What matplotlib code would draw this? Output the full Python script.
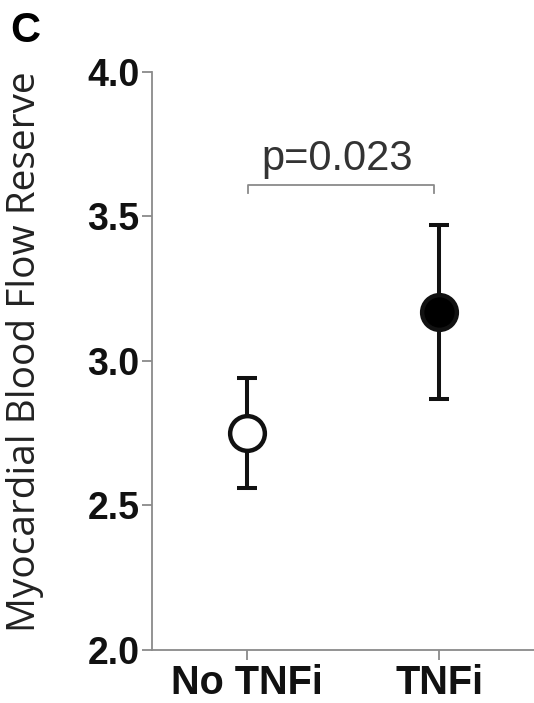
import matplotlib
matplotlib.use('Agg')
import matplotlib.pyplot as plt

# group means and error bars
groups = ['No TNFi', 'TNFi']
means = [2.75, 3.17]
err_low = [2.56, 2.87]
err_high = [2.94, 3.47]
fills = ['white', 'black']
yticks = [2.0, 2.5, 3.0, 3.5, 4.0]
p_text = 'p=0.023'

fig = plt.figure(figsize=(5.34, 7.03), dpi=100)
ax = fig.add_axes([0.285, 0.0754, 0.715, 0.8222])

grey = '#8a8a8a'
for i, g in enumerate(groups):
    lo = means[i] - err_low[i]
    hi = err_high[i] - means[i]
    ax.errorbar(i, means[i], yerr=[[lo], [hi]], fmt='none', ecolor='#111111',
                elinewidth=2.9, capsize=7.5, capthick=2.9, zorder=2)
    ax.plot(i, means[i], 'o', ms=25, mfc=fills[i], mec='#111111', mew=3.2, zorder=3)

# significance bracket
ax.plot([0.005, 0.005, 0.975, 0.975], [3.58, 3.608, 3.608, 3.58], color=grey, lw=1.3, clip_on=False)
ax.text(0.47, 3.66, p_text, ha='center', va='baseline', fontsize=30,
        family='Liberation Sans', color='#333333')

ax.set_xlim(-0.495, 1.495)
ax.set_ylim(2.0, 4.0)
ax.set_xticks(range(len(groups)))
ax.set_xticklabels(groups, fontsize=28.5, fontweight='bold', family='Liberation Sans')
ax.set_yticks(yticks)
ax.set_yticklabels(['%.1f' % v for v in yticks], fontsize=27, fontweight='bold', family='Liberation Sans')

for s in ['top', 'right']:
    ax.spines[s].set_visible(False)
for s in ['left', 'bottom']:
    ax.spines[s].set_color(grey)
    ax.spines[s].set_linewidth(1.3)
ax.tick_params(axis='both', colors=grey, length=7, width=1.3, labelcolor='#111111')
ax.tick_params(axis='y', pad=2)
ax.tick_params(axis='x', pad=3)

fig.text(25 / 534, 0.5, 'Myocardial Blood Flow Reserve', rotation=90, ha='center', va='center',
         fontsize=28, family='Open Sans', color='#222222')
fig.text(0.02, 0.984, 'C', fontsize=30, fontweight='bold', family='Liberation Sans', va='top')

fig.savefig('out.png', dpi=100)
